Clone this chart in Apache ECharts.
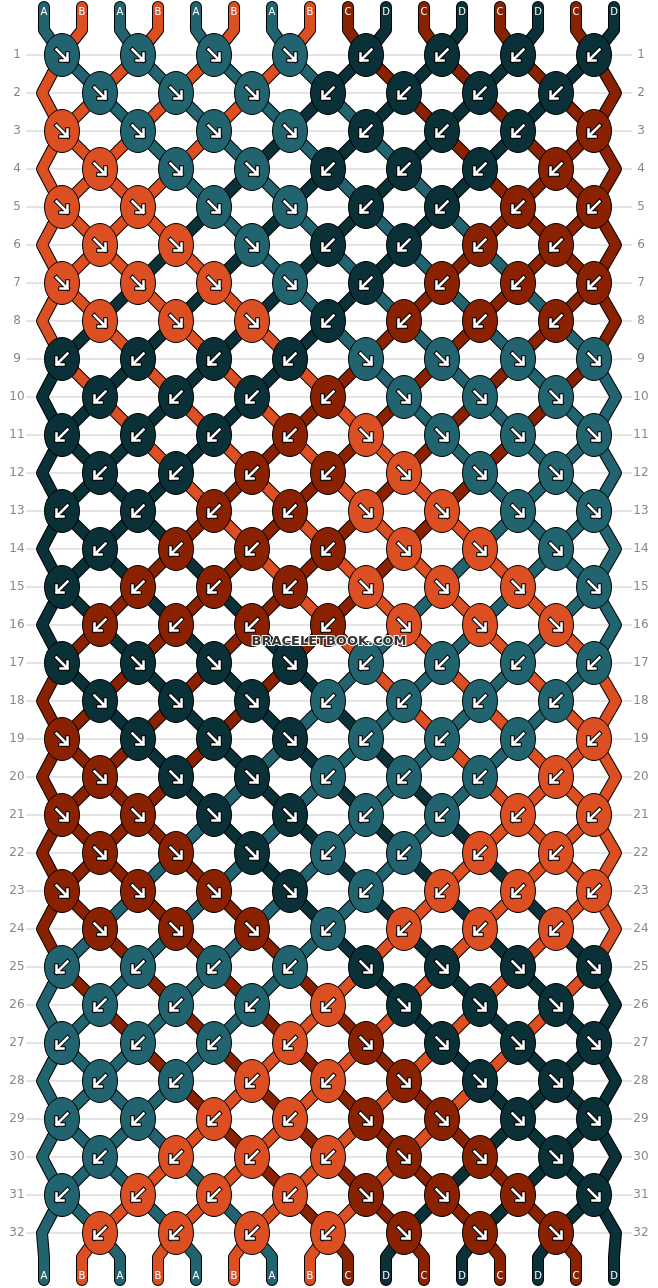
<!DOCTYPE html>
<html><head><meta charset="utf-8">
<script src="https://cdn.jsdelivr.net/npm/echarts@6/dist/echarts.min.js"></script>
<style>html,body{margin:0;padding:0;background:#fff}#c{width:658px;height:1288px}</style>
</head><body><div id="c"></div>
<script>
// string letters at top
const stringLabels = ["A","B","A","B","A","B","A","B","C","D","C","D","C","D","C","D"];
const letterColor = {A:"#21636f",B:"#dc4f22",C:"#8a2100",D:"#0a3038"};
const knotColorMap = {T:"#21636f",O:"#dc4f22",R:"#8a2100",K:"#0a3038"};
const rowLabels = Array.from({length:32},(_,i)=>String(i+1));
// knot colours, read row by row
const knotRows = [
"TTTTKKKK","TTTKKKK","OTTTKKKR","OTTKKKR","OOTTKKRR","OOTKKRR","OOOTKRRR","OOOKRRR",
"KKKKTTTT","KKKRTTT","KKKROTTT","KKRROTT","KKRROOTT","KRRROOT","KRRROOOT","RRRROOO",
"KKKKTTTT","KKKTTTT","RKKKTTTO","RKKTTTO","RRKKTTOO","RRKTTOO","RRRKTOOO","RRRTOOO",
"TTTTKKKK","TTTOKKK","TTTORKKK","TTOORKK","TTOORRKK","TOOORRK","TOOORRRK","OOOORRR"];
// arrow directions F = ↘, B = ↙
const dirRows = [
"FFFFBBBB","FFFBBBB","FFFFBBBB","FFFBBBB","FFFFBBBB","FFFBBBB","FFFFBBBB","FFFBBBB",
"BBBBFFFF","BBBBFFF","BBBBFFFF","BBBBFFF","BBBBFFFF","BBBBFFF","BBBBFFFF","BBBBFFF",
"FFFFBBBB","FFFBBBB","FFFFBBBB","FFFBBBB","FFFFBBBB","FFFBBBB","FFFFBBBB","FFFBBBB",
"BBBBFFFF","BBBBFFF","BBBBFFFF","BBBBFFF","BBBBFFFF","BBBBFFF","BBBBFFFF","BBBBFFF"];

const Y0=55, DY=38, X0=62, DX=76, SX0=44, SDX=38, EDGE_L=42, EDGE_R=616;
const rowY = r => Y0 + DY*r;

const paths = stringLabels.map((l,i)=>[[SX0+SDX*i,7],[SX0+SDX*i,30]]);
let order = stringLabels.map((l,i)=>i);
knotRows.forEach((row,r)=>{
  const y=rowY(r);
  if(r%2===0){
    for(let j=0;j<8;j++){const x=X0+DX*j; paths[order[2*j]].push([x,y]); paths[order[2*j+1]].push([x,y]);
      const t=order[2*j]; order[2*j]=order[2*j+1]; order[2*j+1]=t;}
  } else {
    paths[order[0]].push([EDGE_L,y]); paths[order[15]].push([EDGE_R,y]);
    for(let j=0;j<7;j++){const x=X0+DX/2+DX*j; paths[order[2*j+1]].push([x,y]); paths[order[2*j+2]].push([x,y]);
      const t=order[2*j+1]; order[2*j+1]=order[2*j+2]; order[2*j+2]=t;}
  }
});
order.forEach((s,p)=>{paths[s].push([SX0+SDX*p,1257]);paths[s].push([SX0+SDX*p,1280]);});
const bottomLabels = order.map(s=>stringLabels[s]);

const knots=[];
knotRows.forEach((row,r)=>{
  for(let j=0;j<row.length;j++){
    const x = r%2===0 ? X0+DX*j : X0+DX/2+DX*j;
    knots.push([x,rowY(r),row[j],dirRows[r][j]]);
  }
});

const chart = echarts.init(document.getElementById('c'),null,{renderer:'canvas'});
function threadSeries(outline){
  return {type:'custom',coordinateSystem:'cartesian2d',silent:true,z:outline?2:3,
    data:paths.map((p,i)=>[i]),
    renderItem:(params,api)=>{
      const i=api.value(0);
      const pts=paths[i].map(q=>api.coord(q));
      return {type:'polyline',shape:{points:pts},style:{stroke:outline?'#000':letterColor[stringLabels[i]],lineWidth:outline?12:10,lineCap:'round',lineJoin:'round',fill:null}};
    }};
}
chart.setOption({
  animation:false,
  grid:{left:0,right:0,top:0,bottom:0},
  xAxis:{type:'value',min:0,max:658,show:false},
  yAxis:{type:'value',min:0,max:1288,inverse:true,show:false},
  series:[
    {type:'custom',coordinateSystem:'cartesian2d',silent:true,z:1,
     data:rowLabels.map((l,i)=>[i]),
     renderItem:(params,api)=>{
       const r=api.value(0); const a=api.coord([26,rowY(r)]), b=api.coord([632,rowY(r)]);
       return {type:'group',children:[
         {type:'line',shape:{x1:a[0],y1:a[1],x2:b[0],y2:b[1]},style:{stroke:'#c8c8c8',lineWidth:1}},
         {type:'text',style:{text:rowLabels[r],x:17,y:a[1],align:'center',verticalAlign:'middle',fill:'#888',font:'12px "DejaVu Sans", sans-serif'}},
         {type:'text',style:{text:rowLabels[r],x:641,y:a[1],align:'center',verticalAlign:'middle',fill:'#888',font:'12px "DejaVu Sans", sans-serif'}}
       ]};
     }},
    threadSeries(true),
    threadSeries(false),
    {type:'custom',coordinateSystem:'cartesian2d',silent:true,z:4,
     data:knots.map((k,i)=>[k[0],k[1],i]),
     renderItem:(params,api)=>{
       const c=api.coord([api.value(0),api.value(1)]); const k=knots[api.value(2)];
       const s = k[3]==='F'?1:-1;
       const arrow='M'+(-5.5*s)+' -5.5 L'+(5.5*s)+' 5.5 M'+(5.5*s)+' -1.5 L'+(5.5*s)+' 5.5 L'+(-1.5*s)+' 5.5';
       return {type:'group',x:c[0],y:c[1],children:[
         {type:'ellipse',shape:{cx:0,cy:0,rx:17.5,ry:21.5},style:{fill:knotColorMap[k[2]],stroke:'#000',lineWidth:1}},
         {type:'path',shape:{pathData:arrow},style:{stroke:'#000',lineWidth:4.5,fill:null,lineCap:'square'}},
         {type:'path',shape:{pathData:arrow},style:{stroke:'#fff',lineWidth:2.5,fill:null,lineCap:'square'}}
       ]};
     }},
    {type:'custom',coordinateSystem:'cartesian2d',silent:true,z:5,
     data:stringLabels.map((l,i)=>[i]),
     renderItem:(params,api)=>{
       const i=api.value(0); const x=api.coord([SX0+SDX*i,0])[0];
       return {type:'group',children:[
         {type:'text',style:{text:stringLabels[i],x:x,y:12,align:'center',verticalAlign:'middle',fill:'#fff',font:'10px "DejaVu Sans", sans-serif'}},
         {type:'text',style:{text:bottomLabels[i],x:x,y:1276,align:'center',verticalAlign:'middle',fill:'#fff',font:'10px "DejaVu Sans", sans-serif'}}
       ]};
     }},
    {type:'custom',coordinateSystem:'cartesian2d',silent:true,z:6,data:[[329,642]],
     renderItem:(params,api)=>{const c=api.coord([api.value(0),api.value(1)]);
       return {type:'text',style:{text:'BRACELETBOOK.COM',x:c[0],y:c[1],align:'center',verticalAlign:'middle',fill:'#333',stroke:'#fff',lineWidth:2,font:'bold 13px "DejaVu Sans", sans-serif'}};}}
  ]
});
</script></body></html>
